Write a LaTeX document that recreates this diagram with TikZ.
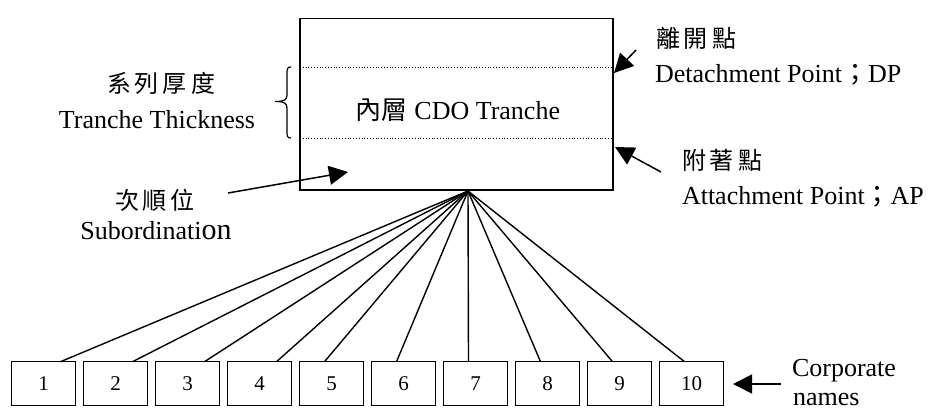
\documentclass[tikz,border=0pt]{standalone}
\usepackage{fontspec}
\setmainfont{Liberation Serif}
\newfontfamily\cjk{Noto Sans CJK TC}
\usetikzlibrary{arrows.meta,calc}

\begin{document}
\begin{tikzpicture}[x=1pt,y=-1pt,
  every node/.style={inner sep=0pt,outer sep=0pt},
  txt/.style={font=\fontsize{26}{30}\selectfont},
  cjktxt/.style={font=\cjk\fontsize{24}{28}\selectfont},
  namebox/.style={draw,line width=1.3pt,minimum width=64pt,minimum height=44pt,
    font=\fontsize{21}{24}\selectfont},
  fan/.style={line width=1.4pt},
  pointer/.style={line width=1.5pt,-{Triangle[length=19pt,width=19pt]}},
  sepline/.style={line width=0.8pt,dotted}]
\useasboundingbox (0,0) rectangle (928,410);

% tranche box with its detachment and attachment levels
\node[draw,line width=1.4pt,minimum width=313pt,minimum height=171.5pt] (tranche) at (456.5,104.25) {};
\coordinate (dpL) at (300,67);   \coordinate (dpR) at (613,67);
\coordinate (apL) at (300,138);  \coordinate (apR) at (613,138);
\draw[sepline] (dpL) -- (dpR);
\draw[sepline] (apL) -- (apR);
\node[txt,anchor=base] (title) at (458,119) {{\cjk 內層} CDO Tranche};

% brace marking the tranche thickness
\draw[line width=1.2pt] (291,67) .. controls (287,67) and (287,69) .. (287,74)
  -- (287,95) .. controls (287,100) and (284,101.5) .. (275,101.5)
  .. controls (284,101.5) and (287,103) .. (287,108)
  -- (287,131) .. controls (287,136) and (287,138) .. (291,138);
\node[cjktxt] (thkzh) at (161,83) {系\,列\,厚\,度};
\node[txt,anchor=base] (thken) at (157,128) {Tranche Thickness};

% subordination
\node[cjktxt] (subzh) at (155,200) {次\,順\,位};
\node[txt,anchor=base] (suben) at (156,239) {Subordinati{\fontsize{30}{30}\selectfont on}};
\coordinate (subtail) at (228,193);
\coordinate (subtip) at (348,172);
\draw[pointer] (subtail) -- (subtip);

% detachment point
\node[cjktxt,anchor=west] (dpzh) at (656,38) {離\,開\,點};
\node[txt,anchor=base west] (dpen) at (655,82) {Detachment Point{\cjk ；}DP};
\coordinate (dptail) at (636,50);
\coordinate (dptip) at (614,73);
\draw[pointer] (dptail) -- (dptip);

% attachment point
\node[cjktxt,anchor=west] (apzh) at (682,160) {附\,著\,點};
\node[txt,anchor=base west] (apen) at (682,204) {Attachment Point{\cjk ；}AP};
\coordinate (aptail) at (661,172);
\coordinate (aptip) at (615,147);
\draw[pointer] (aptail) -- (aptip);

% reference portfolio names
\coordinate (hub) at (468,191);
\foreach \i in {1,...,10} {
  \node[namebox] (n\i) at ({43.5+72*(\i-1)},383.7) {\i};
}
\foreach \i in {1,...,4} {
  \draw[fan] (hub) -- ($(n\i.north)+(17,0)$);
}
\foreach \i in {5,...,10} {
  \draw[fan] (hub) -- ($(n\i.north)+(-7,0)$);
}

\node[txt,anchor=base west] (corp) at (792,376) {Corporate};
\node[txt,anchor=base west] (names) at (793,405) {names};
\coordinate (corptail) at (781,384);
\coordinate (corptip) at (733,384);
\draw[pointer] (corptail) -- (corptip);
\end{tikzpicture}
\end{document}
